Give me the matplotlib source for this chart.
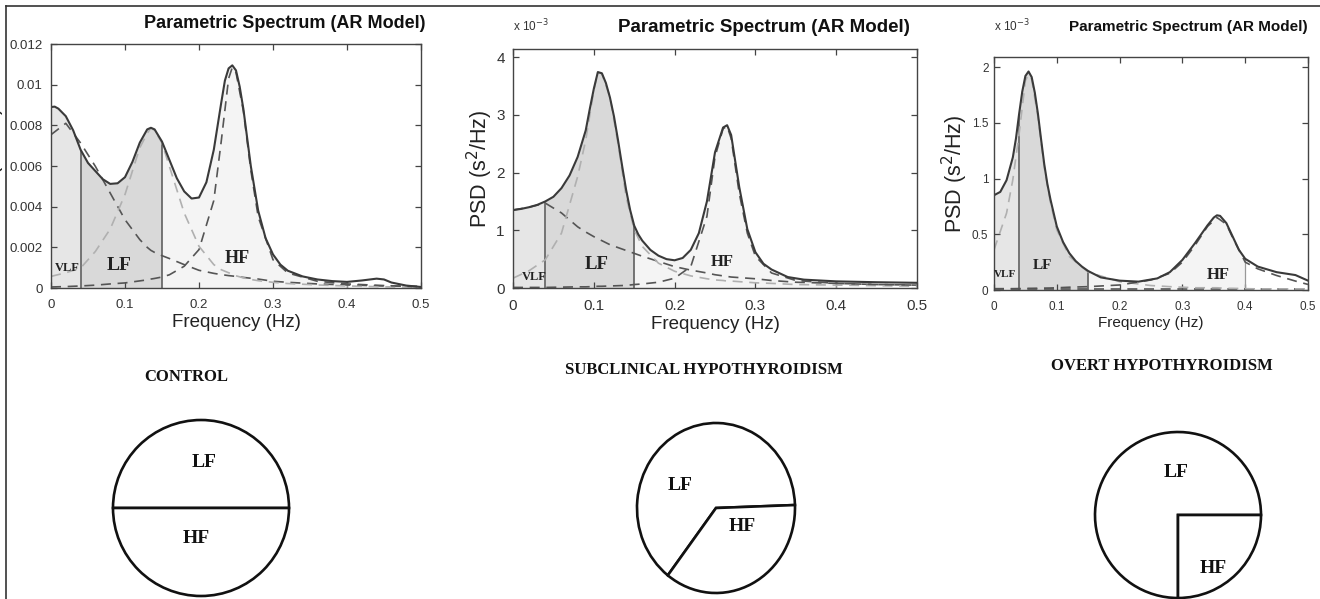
import numpy as np
import matplotlib.pyplot as plt
from matplotlib.ticker import FuncFormatter

W, H = 1320, 599

# ---- spectrum values (PSD in units of 1e-3 s^2/Hz) ----
# control
f_ctrl = [0, 0.005, 0.01, 0.02, 0.03, 0.04, 0.05, 0.06, 0.07, 0.08, 0.09, 0.10, 0.11, 0.12,
          0.13, 0.135, 0.14, 0.15, 0.16, 0.17, 0.18, 0.19, 0.20, 0.21, 0.22, 0.23, 0.235,
          0.24, 0.245, 0.25, 0.255, 0.26, 0.27, 0.28, 0.29, 0.30, 0.31, 0.32, 0.34, 0.36,
          0.38, 0.40, 0.42, 0.44, 0.45, 0.46, 0.48, 0.50]
psd_ctrl = [8.9, 8.92, 8.82, 8.45, 7.75, 6.8, 6.15, 5.75, 5.35, 5.12, 5.15, 5.45, 6.2, 7.15,
            7.8, 7.88, 7.8, 7.2, 6.3, 5.4, 4.75, 4.4, 4.45, 5.2, 6.8, 9.1, 10.2,
            10.8, 10.95, 10.7, 9.9, 8.8, 6.0, 3.8, 2.45, 1.65, 1.15, 0.85, 0.57, 0.42,
            0.34, 0.30, 0.37, 0.46, 0.42, 0.27, 0.12, 0.05]
fc_ctrl = [0, 0.02, 0.04, 0.06, 0.08, 0.10, 0.12, 0.13, 0.135, 0.14, 0.15, 0.16, 0.18, 0.20,
           0.22, 0.23, 0.24, 0.245, 0.25, 0.26, 0.27, 0.28, 0.30, 0.32, 0.36, 0.40, 0.45, 0.50]
vlf_ctrl = [7.54, 8.1, 7.13, 5.98, 4.67, 3.36, 2.38, 2.0, 1.85, 1.75, 1.59, 1.45, 1.15, 0.87,
            0.72, 0.66, 0.61, 0.59, 0.57, 0.52, 0.48, 0.44, 0.33, 0.28, 0.2, 0.15, 0.1, 0.08]
lf_ctrl = [0.57, 0.75, 0.98, 1.8, 2.9, 4.6, 6.9, 7.6, 7.87, 7.75, 7.13, 5.98, 3.69, 2.05,
           1.15, 0.9, 0.75, 0.68, 0.6, 0.5, 0.42, 0.36, 0.28, 0.22, 0.15, 0.1, 0.06, 0.04]
hf_ctrl = [0.05, 0.07, 0.1, 0.14, 0.2, 0.25, 0.35, 0.4, 0.44, 0.47, 0.54, 0.65, 1.07, 1.89,
           4.3, 7.2, 10.3, 10.85, 10.6, 8.7, 5.8, 3.5, 1.39, 0.74, 0.33, 0.2, 0.12, 0.06]

# subclinical hypothyroidism
f_sub = [0, 0.01, 0.02, 0.03, 0.04, 0.05, 0.06, 0.07, 0.08, 0.09, 0.095, 0.10, 0.105, 0.11,
         0.115, 0.12, 0.125, 0.13, 0.135, 0.14, 0.145, 0.15, 0.155, 0.16, 0.17, 0.18, 0.19,
         0.20, 0.21, 0.22, 0.23, 0.24, 0.25, 0.26, 0.265, 0.27, 0.28, 0.29, 0.30, 0.31, 0.32,
         0.34, 0.36, 0.40, 0.45, 0.50]
psd_sub = [1.35, 1.37, 1.40, 1.44, 1.50, 1.58, 1.73, 1.95, 2.27, 2.73, 3.1, 3.45, 3.74, 3.72,
           3.55, 3.3, 2.97, 2.56, 2.12, 1.7, 1.35, 1.08, 0.93, 0.82, 0.66, 0.56, 0.5,
           0.48, 0.52, 0.66, 0.95, 1.5, 2.35, 2.78, 2.82, 2.65, 1.75, 1.02, 0.62, 0.42, 0.32,
           0.19, 0.145, 0.115, 0.10, 0.09]
fc_sub = [0, 0.02, 0.04, 0.06, 0.08, 0.09, 0.10, 0.105, 0.11, 0.12, 0.13, 0.14, 0.15, 0.16,
          0.18, 0.20, 0.22, 0.24, 0.25, 0.26, 0.265, 0.27, 0.28, 0.29, 0.30, 0.32, 0.35, 0.40,
          0.45, 0.50]
vlf_sub = [1.35, 1.40, 1.47, 1.30, 1.06, 0.97, 0.89, 0.85, 0.82, 0.75, 0.7, 0.65, 0.60, 0.55,
           0.46, 0.37, 0.31, 0.26, 0.23, 0.21, 0.2, 0.19, 0.18, 0.17, 0.16, 0.13, 0.10, 0.08,
           0.06, 0.05]
lf_sub = [0.17, 0.3, 0.49, 0.95, 1.93, 2.56, 3.42, 3.74, 3.71, 3.31, 2.5, 1.58, 1.01, 0.72,
          0.43, 0.29, 0.21, 0.16, 0.14, 0.13, 0.12, 0.12, 0.11, 0.1, 0.09, 0.08, 0.06, 0.05,
          0.04, 0.03]
hf_sub = [0.01, 0.01, 0.01, 0.015, 0.02, 0.02, 0.025, 0.03, 0.03, 0.035, 0.04, 0.045, 0.06, 0.07,
          0.1, 0.17, 0.37, 1.24, 2.27, 2.76, 2.8, 2.59, 1.64, 0.95, 0.55, 0.26, 0.13, 0.08,
          0.06, 0.05]

# overt hypothyroidism
f_ovt = [0, 0.01, 0.02, 0.03, 0.035, 0.04, 0.045, 0.05, 0.055, 0.06, 0.065, 0.07, 0.075,
         0.08, 0.085, 0.09, 0.10, 0.11, 0.12, 0.13, 0.14, 0.15, 0.17, 0.20, 0.23, 0.26, 0.28,
         0.30, 0.32, 0.33, 0.34, 0.35, 0.355, 0.36, 0.37, 0.38, 0.39, 0.40, 0.42, 0.45, 0.48,
         0.50]
psd_ovt = [0.85, 0.88, 0.985, 1.19, 1.36, 1.58, 1.78, 1.92, 1.96, 1.91, 1.77, 1.58, 1.35,
           1.13, 0.95, 0.81, 0.57, 0.43, 0.33, 0.26, 0.21, 0.17, 0.113, 0.084, 0.075, 0.104, 0.16,
           0.27, 0.42, 0.5, 0.58, 0.65, 0.67, 0.665, 0.60, 0.48, 0.36, 0.28, 0.21, 0.16, 0.134,
           0.084]
fc_ovt = [0, 0.02, 0.03, 0.04, 0.05, 0.055, 0.06, 0.07, 0.08, 0.09, 0.10, 0.12, 0.15, 0.20,
          0.25, 0.28, 0.30, 0.32, 0.34, 0.355, 0.37, 0.38, 0.40, 0.42, 0.45, 0.48, 0.50]
vlf_ovt = [0.012] * len(fc_ovt)
lf_ovt = [0.36, 0.69, 0.99, 1.40, 1.88, 1.93, 1.89, 1.55, 1.10, 0.78, 0.54, 0.30, 0.16, 0.075,
          0.04, 0.03, 0.025, 0.02, 0.02, 0.02, 0.015, 0.015, 0.012, 0.01, 0.01, 0.01, 0.01]
hf_ovt = [0.012, 0.012, 0.012, 0.013, 0.014, 0.015, 0.015, 0.016, 0.017, 0.018, 0.02, 0.025,
          0.03, 0.045, 0.09, 0.15, 0.25, 0.4, 0.57, 0.65, 0.59, 0.47, 0.25, 0.19, 0.13, 0.08, 0.05]

# LF / HF shares for the pies (percent)
lfhf_ctrl = [50, 50]
lfhf_sub = [64, 36]
lfhf_ovt = [75, 25]

bands = [0.04, 0.15, 0.40]
group_names = ['CONTROL', 'SUBCLINICAL HYPOTHYROIDISM', 'OVERT HYPOTHYROIDISM']

SANS = ['Liberation Sans', 'DejaVu Sans']
SERIF = ['Liberation Serif', 'DejaVu Serif']


def fx(px):
    return px / W


def fy(py):
    return 1 - py / H


def box(l, t, r, b):
    return [fx(l), fy(b), (r - l) / W, (b - t) / H]


fig = plt.figure(figsize=(W / 100, H / 100), dpi=100)
fig.patch.set_facecolor('white')

# frame remnants at left / top edge
fig.add_artist(plt.Line2D([fx(6), fx(6)], [0, fy(6)], color='#333333', lw=1.2))
fig.add_artist(plt.Line2D([fx(6), 1], [fy(6), fy(6)], color='#333333', lw=1.2))


def spectrum(pos, f, p, fc, comps, ymax, yticks, fs_tick, lbls, scale_lbl):
    ax = fig.add_axes(pos)
    f = np.array(f)
    p = np.array(p) * 1e-3
    i1, i2, i3 = [int(np.argmin(np.abs(f - b))) for b in bands]
    ax.fill_between(f[:i1 + 1], 0, p[:i1 + 1], color='#e6e6e6', lw=0)
    ax.fill_between(f[i1:i2 + 1], 0, p[i1:i2 + 1], color='#d9d9d9', lw=0)
    ax.fill_between(f[i2:i3 + 1], 0, p[i2:i3 + 1], color='#f4f4f4', lw=0)
    ax.vlines([f[i1], f[i2]], 0, [p[i1], p[i2]], color='#555555', lw=1.1)
    ax.vlines([f[i3]], 0, [p[i3]], color='#999999', lw=0.9)
    fc = np.array(fc)
    ax.plot(fc, np.array(comps[0]) * 1e-3, color='#555555', lw=1.2, dashes=(6, 4))
    ax.plot(fc, np.array(comps[1]) * 1e-3, color='#b0b0b0', lw=1.2, dashes=(6, 4))
    ax.plot(fc, np.array(comps[2]) * 1e-3, color='#555555', lw=1.2, dashes=(6, 4))
    ax.plot(f, p, color='#3a3a3a', lw=1.5)
    ax.set_xlim(0, 0.5)
    ax.set_ylim(0, ymax * 1e-3)
    ax.set_xticks([0, 0.1, 0.2, 0.3, 0.4, 0.5])
    ax.set_yticks(np.array(yticks) * 1e-3)
    ax.xaxis.set_major_formatter(FuncFormatter(lambda v, _: f'{v:g}'))
    if scale_lbl:
        ax.yaxis.set_major_formatter(FuncFormatter(lambda v, _: f'{v * 1e3:g}'))
    else:
        ax.yaxis.set_major_formatter(FuncFormatter(lambda v, _: f'{round(v, 4):g}'))
    ax.tick_params(direction='in', top=True, right=True, length=4, width=0.9,
                   colors='#444444', labelcolor='#333333', labelsize=fs_tick)
    ax.tick_params(axis='x', pad=8)
    ax.tick_params(axis='y', pad=6)
    for lab in ax.get_xticklabels() + ax.get_yticklabels():
        lab.set_family(SANS)
    for s in ax.spines.values():
        s.set_color('#444444')
        s.set_linewidth(1.0)
    for txt, x, y, size in lbls:
        ax.text(x, y * 1e-3, txt, family=SERIF, weight='bold', fontsize=size,
                ha='center', va='center', color='#222222')
    return ax


ax1 = spectrum(box(51, 44, 421, 288), f_ctrl, psd_ctrl, fc_ctrl,
               [vlf_ctrl, lf_ctrl, hf_ctrl], 12, [0, 2, 4, 6, 8, 10, 12], 9.5,
               [('VLF', 0.022, 0.98, 9), ('LF', 0.092, 1.13, 14), ('HF', 0.251, 1.43, 13)],
               False)
ax2 = spectrum(box(513, 49, 917, 288), f_sub, psd_sub, fc_sub,
               [vlf_sub, lf_sub, hf_sub], 4.14, [0, 1, 2, 3, 4], 11,
               [('VLF', 0.026, 0.19, 9), ('LF', 0.104, 0.415, 13.5), ('HF', 0.259, 0.45, 12)],
               True)
ax3 = spectrum(box(994, 57, 1308, 290), f_ovt, psd_ovt, fc_ovt,
               [vlf_ovt, lf_ovt, hf_ovt], 2.09, [0, 0.5, 1, 1.5, 2], 8.5,
               [('VLF', 0.018, 0.135, 8), ('LF', 0.077, 0.224, 11), ('HF', 0.357, 0.135, 12)],
               True)
ax3.tick_params(axis='y', pad=4)

for ax, fs in [(ax1, 13.5), (ax2, 13.5), (ax3, 11)]:
    ax.set_xlabel('Frequency (Hz)', family=SANS, fontsize=fs, color='#222222', labelpad=2)

for ax, xoff in [(ax1, -0.118), (ax2, -0.045), (ax3, -0.078)]:
    ax.set_ylabel('PSD (s$^2$/Hz)', family=SANS, fontsize=15.5, color='#222222')
    ax.yaxis.set_label_coords(xoff, 0.5)

# titles and scale notes
for r, yc, fs in [(425, 24, 13), (910, 28, 13.5), (1308, 27, 11)]:
    fig.text(fx(r), fy(yc), 'Parametric Spectrum (AR Model)', family=SANS, weight='bold',
             fontsize=fs, ha='right', va='center', color='#111111')
for l in [513, 994]:
    fig.text(fx(l), fy(34), r'x 10$^{-3}$', family=SANS, fontsize=8.5, ha='left',
             va='bottom', color='#333333')

# group captions
for name, xc, yc in zip(group_names, [186, 704, 1162], [377, 370, 366]):
    fig.text(fx(xc), fy(yc), name, family=SERIF, weight='bold', fontsize=12,
             ha='center', va='center', color='#111111')


def pie(cx, cy, rx, ry, vals, start, lbl_pos):
    pad = 1.04
    ax = fig.add_axes(box(cx - pad * rx, cy - pad * ry, cx + pad * rx, cy + pad * ry))
    ax.pie(vals, startangle=start, counterclock=True,
           wedgeprops=dict(facecolor='white', edgecolor='#111111', linewidth=1.9))
    ax.set_aspect('auto')
    ax.set_xlim(-pad, pad)
    ax.set_ylim(-pad, pad)
    ax.axis('off')
    for txt, (x, y) in zip(['LF', 'HF'], lbl_pos):
        ax.text(x, y, txt, family=SERIF, weight='bold', fontsize=14, ha='center',
                va='center', color='#111111')


pie(201, 508, 88, 88, lfhf_ctrl, 0, [(0.03, 0.52), (-0.06, -0.35)])
pie(716, 508, 79, 85, lfhf_sub, 2, [(-0.46, 0.26), (0.33, -0.22)])
pie(1178, 515, 83, 83, lfhf_ovt, 0, [(-0.02, 0.51), (0.42, -0.64)])

fig.savefig('out.png', dpi=100)
